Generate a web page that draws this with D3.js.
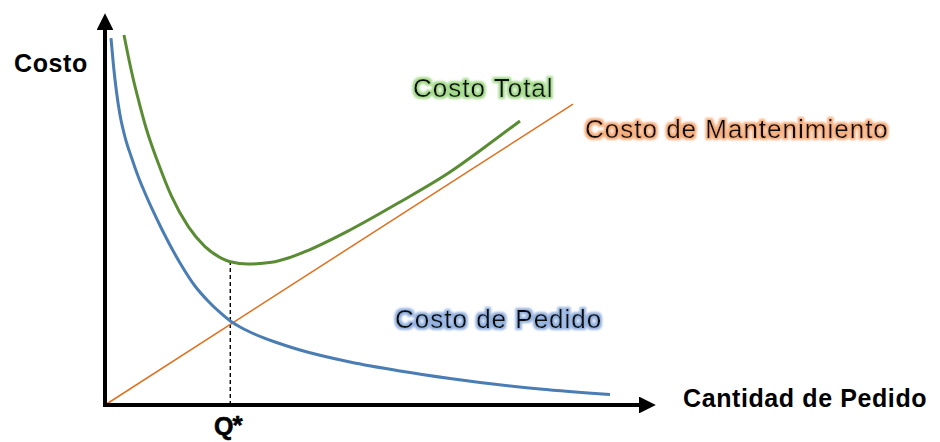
<!DOCTYPE html>
<html>
<head>
<meta charset="utf-8">
<script src="https://cdn.jsdelivr.net/npm/d3@7/dist/d3.min.js"></script>
<style>
  html, body { margin: 0; padding: 0; background: #ffffff; }
  svg { display: block; }
  text { font-family: "Liberation Sans", Arial, sans-serif; }
</style>
</head>
<body>
<svg id="chart" width="940" height="442"></svg>
<script>
// ---- data (abstract units) ----
const pedidoX = [1.09, 1.55, 2.09, 2.73, 3.64, 4.85, 6.0, 7.27, 8.73, 10.31, 13.64, 16.36, 18.73, 20.91, 22.78, 24.55, 26.36, 30.91, 35.45, 44.55, 53.64, 62.73, 68.18, 79.09, 91.82];
const pedidoY = [93.86, 86.70, 80.05, 74.17, 68.54, 63.17, 58.57, 54.22, 49.62, 45.01, 36.32, 30.43, 26.60, 23.66, 21.48, 19.95, 18.67, 16.11, 14.07, 11.00, 8.70, 6.78, 5.78, 4.09, 2.66];

const totalX = [3.45, 4.18, 5.09, 6.18, 7.58, 9.69, 12.13, 15.15, 18.18, 21.22, 22.78, 26.05, 30.31, 33.33, 36.36, 44.55, 53.64, 62.73, 69.09, 75.45];
const totalY = [94.63, 89.51, 83.63, 77.49, 70.33, 61.82, 53.27, 45.60, 40.49, 37.52, 36.65, 36.06, 36.50, 37.60, 39.21, 44.76, 51.92, 59.59, 65.98, 72.63];

const mantX = [0, 85.09];
const mantY = [0, 76.98];

const qStar = 22.78;
const qStarTop = 36.65;

const labels = {
  yAxis: "Costo",
  xAxis: "Cantidad de Pedido",
  total: "Costo Total",
  mant: "Costo de Mantenimiento",
  pedido: "Costo de Pedido",
  q: "Q"
};

// ---- drawing ----
const svg = d3.select("#chart");
const x = d3.scaleLinear().domain([0, 100]).range([105, 655]);
const y = d3.scaleLinear().domain([0, 100]).range([405, 14]);

const defs = svg.append("defs");
function glow(id, color) {
  const f = defs.append("filter").attr("id", id)
    .attr("x", "-10%").attr("y", "-30%").attr("width", "120%").attr("height", "160%");
  f.append("feMorphology").attr("in", "SourceAlpha").attr("operator", "dilate").attr("radius", 1.7).attr("result", "d");
  f.append("feGaussianBlur").attr("in", "d").attr("stdDeviation", 0.9).attr("result", "b");
  f.append("feFlood").attr("flood-color", color).attr("result", "c");
  f.append("feComposite").attr("in", "c").attr("in2", "b").attr("operator", "in").attr("result", "g");
  const m = f.append("feMerge");
  m.append("feMergeNode").attr("in", "g");
  m.append("feMergeNode").attr("in", "SourceGraphic");
}
glow("gGreen", "#a3d98a");
glow("gOrange", "#f5ac7a");
glow("gBlue", "#92b0de");

// arrow markers
defs.append("marker").attr("id", "arr")
  .attr("viewBox", "0 0 10 10").attr("refX", 0).attr("refY", 5)
  .attr("markerWidth", 4.2).attr("markerHeight", 4.2)
  .attr("markerUnits", "strokeWidth").attr("orient", "auto")
  .append("path").attr("d", "M0,0 L10,5 L0,10 Z").attr("fill", "#000");

const line = d3.line().x(d => x(d[0])).y(d => y(d[1])).curve(d3.curveMonotoneX);
const straight = d3.line().x(d => x(d[0])).y(d => y(d[1]));

// dashed Q* line
svg.append("line")
  .attr("x1", x(qStar)).attr("x2", x(qStar))
  .attr("y1", y(0)).attr("y2", y(qStarTop))
  .attr("stroke", "#000").attr("stroke-width", 1.4)
  .attr("stroke-dasharray", "4,3");

// orange line
svg.append("path")
  .datum(d3.zip(mantX, mantY))
  .attr("d", straight)
  .attr("fill", "none").attr("stroke", "#e0701e").attr("stroke-width", 1.5);

// blue curve
svg.append("path")
  .datum(d3.zip(pedidoX, pedidoY))
  .attr("d", line)
  .attr("fill", "none").attr("stroke", "#4a7db3").attr("stroke-width", 3);

// green curve
svg.append("path")
  .datum(d3.zip(totalX, totalY))
  .attr("d", line)
  .attr("fill", "none").attr("stroke", "#5a8c34").attr("stroke-width", 3);

// axes
svg.append("line")
  .attr("x1", x(0)).attr("y1", y(0) + 2)
  .attr("x2", x(0)).attr("y2", y(100) + 16)
  .attr("stroke", "#000").attr("stroke-width", 4)
  .attr("marker-end", "url(#arr)");
svg.append("line")
  .attr("x1", x(0) - 2).attr("y1", y(0))
  .attr("x2", x(100) - 16).attr("y2", y(0))
  .attr("stroke", "#000").attr("stroke-width", 4)
  .attr("marker-end", "url(#arr)");

// axis labels
svg.append("text").attr("x", 14).attr("y", 72)
  .attr("font-size", 25).attr("font-weight", "bold").attr("letter-spacing", 0.6)
  .attr("fill", "#000").text(labels.yAxis);
svg.append("text").attr("x", 683).attr("y", 407)
  .attr("font-size", 25).attr("font-weight", "bold").attr("letter-spacing", 0.6)
  .attr("fill", "#000").text(labels.xAxis);

// Q*
const qt = svg.append("text").attr("x", 214).attr("y", 435)
  .attr("font-size", 25).attr("font-weight", "bold").attr("fill", "#000")
  .attr("stroke", "#000").attr("stroke-width", 0.6);
qt.append("tspan").text(labels.q);
qt.append("tspan").attr("font-size", 26).attr("dy", -1).attr("dx", -1).text("*");

// series labels with glow
function glowLabel(txt, px, py, filt) {
  svg.append("text").attr("x", px).attr("y", py)
    .attr("font-size", 26).attr("letter-spacing", 1)
    .attr("fill", "#111").attr("filter", `url(#${filt})`).text(txt);
}
glowLabel(labels.total, 413, 97, "gGreen");
glowLabel(labels.mant, 585, 138, "gOrange");
glowLabel(labels.pedido, 395, 328, "gBlue");
</script>
</body>
</html>
